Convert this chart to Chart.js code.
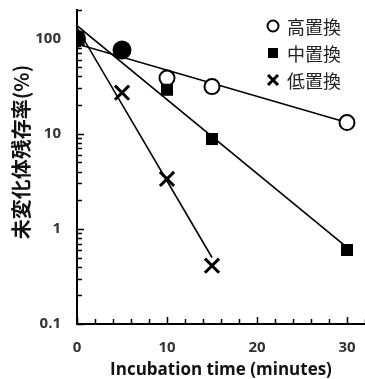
<!DOCTYPE html>
<html>
<head>
<meta charset="utf-8">
<script src="https://cdn.jsdelivr.net/npm/chart.js@4"></script>
<style>
  html, body { margin: 0; padding: 0; background: #fff; }
  #wrap { position: relative; width: 365px; height: 379px; }
</style>
</head>
<body>
<div id="wrap"><canvas id="chart"></canvas></div>
<script>
const times = [0, 5, 10, 15, 30];
const highSub = [100, 76, 38.5, 31.3, 13.1];   // 高置換
const midSub = [100, 75, 29, 8.8, 0.6];        // 中置換
const lowTimes = [0, 5, 10, 15];
const lowSub = [100, 27, 3.35, 0.41];          // 低置換

// trend lines (end points)
const fitTimes = [0, 30];
const highFit = [88, 13.1];
const midFit = [137, 0.64];
const lowFitTimes = [0, 15];
const lowFit = [130, 0.5];

const seriesNames = ["高置換", "中置換", "低置換"];
const yLabels = [0.1, 1, 10, 100];
const xLabels = [0, 10, 20, 30];
const yTitle = "未変化体残存率(%)";

const pts = (xs, ys) => xs.map((x, i) => ({ x, y: ys[i] }));
const fitLine = (xs, ys) => ({
  type: "line",
  data: pts(xs, ys),
  borderColor: "#000",
  borderWidth: 1.6,
  pointRadius: 0,
  fill: false,
  order: 5,
});

// inward tick marks, y title, legend
const extras = {
  id: "extras",
  afterDraw(chart) {
    const { ctx, chartArea: a, scales: { x, y } } = chart;
    ctx.save();
    ctx.strokeStyle = "#000";
    ctx.lineWidth = 1.5;
    ctx.beginPath();
    for (let d = 0.1; d < 200; d *= 10) {
      for (let k = 1; k <= 9; k++) {
        const v = d * k;
        if (v > 200) break;
        const py = Math.round(y.getPixelForValue(v)) + 0.5;
        const len = k === 1 ? 7 : 5;
        ctx.moveTo(a.left, py);
        ctx.lineTo(a.left + len, py);
      }
    }
    const py200 = Math.round(y.getPixelForValue(200)) + 0.5;
    ctx.moveTo(a.left, py200);
    ctx.lineTo(a.left + 5, py200);
    for (let t = 0; t <= 32; t += 2) {
      const px = Math.round(x.getPixelForValue(t)) + 0.5;
      const len = t % 10 === 0 ? 7 : 5;
      ctx.moveTo(px, a.bottom);
      ctx.lineTo(px, a.bottom - len);
    }
    ctx.stroke();

    // y title, sits a bit above the plot centre like the original
    ctx.save();
    ctx.translate(21, 152);
    ctx.rotate(-Math.PI / 2);
    ctx.font = "bold 20px 'Noto Sans CJK JP'";
    ctx.fillStyle = "#111";
    ctx.textAlign = "center";
    ctx.textBaseline = "middle";
    ctx.fillText(yTitle, 0, 0);
    ctx.restore();

    // legend
    const lx = 273, rows = [26, 53, 80];
    ctx.font = "18px 'Noto Sans CJK JP'";
    ctx.textBaseline = "middle";
    seriesNames.forEach((name, i) => {
      const cy = rows[i];
      ctx.beginPath();
      ctx.lineWidth = 2;
      if (i === 0) {
        ctx.arc(lx, cy, 5.5, 0, Math.PI * 2);
        ctx.stroke();
      } else if (i === 1) {
        ctx.fillStyle = "#000";
        ctx.fillRect(lx - 5, cy - 5, 10, 10);
      } else {
        ctx.lineWidth = 3;
        ctx.moveTo(lx - 5, cy - 5); ctx.lineTo(lx + 5, cy + 5);
        ctx.moveTo(lx + 5, cy - 5); ctx.lineTo(lx - 5, cy + 5);
        ctx.stroke();
      }
      ctx.fillStyle = "#222";
      ctx.fillText(name, lx + 14, cy + 1);
    });
    ctx.restore();
  },
};

const tickFont = { family: "'Open Sans'", weight: "bold", size: 15 };

new Chart(document.getElementById("chart"), {
  type: "scatter",
  data: {
    datasets: [
      {
        label: seriesNames[0],
        data: pts(times, highSub),
        pointStyle: "circle",
        pointRadius: [8, 8.5, 7.5, 7.5, 7.5],
        borderWidth: 2,
        borderColor: "#000",
        backgroundColor: ["#000", "#000", "#fff", "#fff", "#fff"],
        order: 3,
      },
      {
        label: seriesNames[1],
        data: pts(times, midSub),
        pointStyle: "rect",
        pointRadius: 8.5,
        borderWidth: 0,
        backgroundColor: "#000",
        order: 2,
      },
      {
        label: seriesNames[2],
        data: pts(lowTimes, lowSub),
        pointStyle: "crossRot",
        pointRadius: 10,
        borderWidth: 3,
        borderColor: "#000",
        order: 1,
      },
      fitLine(fitTimes, highFit),
      fitLine(fitTimes, midFit),
      fitLine(lowFitTimes, lowFit),
    ],
  },
  options: {
    responsive: true,
    maintainAspectRatio: false,
    animation: false,
    layout: { autoPadding: false, padding: { top: 10, right: 0, left: 0, bottom: 0 } },
    plugins: { legend: { display: false }, tooltip: { enabled: false } },
    scales: {
      x: {
        type: "linear",
        min: 0,
        max: 32,
        afterBuildTicks: (s) => { s.ticks = xLabels.map((v) => ({ value: v })); },
        afterFit: (s) => { s.height = 55; s.paddingRight = 0; s.paddingLeft = 0; },
        grid: { display: false, drawTicks: false },
        border: { color: "#000", width: 2 },
        ticks: { padding: 15, color: "#333", font: tickFont },
        title: {
          display: true,
          text: "Incubation time (minutes)",
          color: "#111",
          font: { family: "'Open Sans'", weight: "bold", size: 17 },
          padding: { top: 0, bottom: -1 },
        },
      },
      y: {
        type: "logarithmic",
        min: 0.1,
        max: 200,
        afterBuildTicks: (s) => { s.ticks = yLabels.map((v) => ({ value: v })); },
        afterFit: (s) => { s.width = 77; s.paddingTop = 0; s.paddingBottom = 0; },
        grid: { display: false, drawTicks: false },
        border: { color: "#000", width: 2 },
        ticks: { padding: 16, color: "#333", font: tickFont, callback: (v) => String(v) },
        title: { display: false },
      },
    },
  },
  plugins: [extras],
});
</script>
</body>
</html>
